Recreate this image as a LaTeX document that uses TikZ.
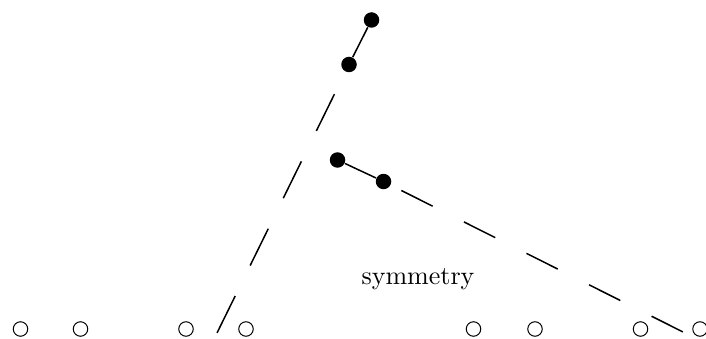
\documentclass[tikz,border=0pt]{standalone}
\usepackage{tikz}

\tikzset{
  bead/.style={circle,fill=black,inner sep=0pt,minimum size=6.2pt},
  ring/.style={circle,draw=black,line width=0.4pt,inner sep=0pt,minimum size=5.8pt},
  arm/.style={line width=0.6pt,line cap=butt}
}

\begin{document}
\begin{tikzpicture}[x=0.4pt,y=-0.4pt]
\def\yrow{329}
\useasboundingbox (0,0) rectangle (706,339);

% ---- the bottom row of open sites ----
\foreach \x/\n in {20.5/r1,80.5/r2,186/r3,246/r4,473.5/r5,535/r6,640.5/r7,700/r8}{
  \node[ring] (\n) at (\x,\yrow) {};}

% ---- filled beads ----
\node[bead] (a) at (371.5,20) {};
\node[bead] (b) at (349,64.5) {};
\node[bead] (c) at (337.5,160) {};
\node[bead] (d) at (383.5,181.5) {};

% ---- free ends of the two chains ----
\coordinate (e1) at (217,333);
\coordinate (e2) at (683,332);

% ---- chains ----
\draw[arm] (a) -- (b);
\draw[arm,dash pattern=on 16.4pt off 13.6pt,dash phase=16.8pt] (b.center) -- (e1);
\draw[arm] (c) -- (d);
\draw[arm,dash pattern=on 14pt off 14pt,dash phase=20pt] (d.center) -- (e2);

% ---- label ----
\node[font=\fontsize{10.4}{12}\selectfont] (sym) at (418,279) {symmetry};
\end{tikzpicture}
\end{document}
